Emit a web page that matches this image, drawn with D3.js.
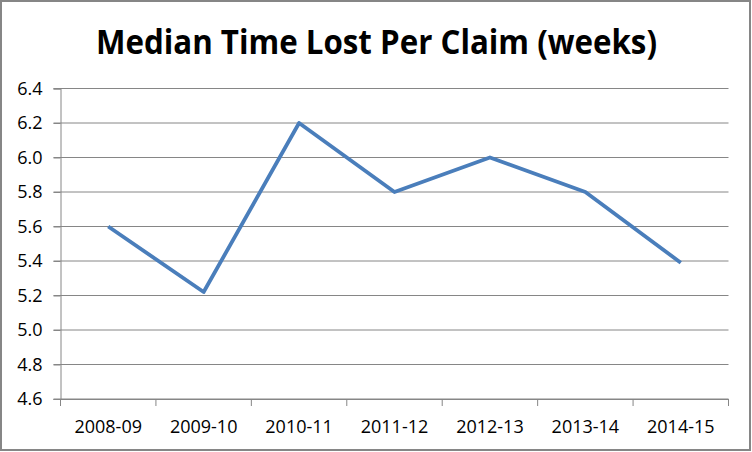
<!DOCTYPE html>
<html>
<head>
<meta charset="utf-8">
<script src="https://cdn.jsdelivr.net/npm/d3@7"></script>
<style>
  body { margin: 0; background: #fff; }
  svg { display: block; }
</style>
</head>
<body>
<script>
const title = "Median Time Lost Per Claim (weeks)";
const years = ["2008-09", "2009-10", "2010-11", "2011-12", "2012-13", "2013-14", "2014-15"];
const weeks = [5.6, 5.22, 6.2, 5.8, 6.0, 5.8, 5.39];
const yTicks = [4.6, 4.8, 5.0, 5.2, 5.4, 5.6, 5.8, 6.0, 6.2, 6.4];

const width = 752, height = 452;
const margin = {top: 88.5, right: 23.5, bottom: 53, left: 60.5};

const svg = d3.select("body").append("svg")
  .attr("width", width)
  .attr("height", height);

svg.append("rect")
  .attr("x", 1).attr("y", 1)
  .attr("width", 749).attr("height", 449)
  .attr("fill", "#fff")
  .attr("stroke", "#868686")
  .attr("stroke-width", 2);

svg.append("text")
  .attr("x", 96).attr("y", 53.5)
  .attr("textLength", 561)
  .attr("lengthAdjust", "spacingAndGlyphs")
  .attr("font-family", "'Open Sans', sans-serif")
  .attr("font-weight", "bold")
  .attr("font-size", 34)
  .attr("fill", "#000")
  .text(title);

const x = d3.scaleBand()
  .domain(years)
  .range([margin.left, width - margin.right]);

const y = d3.scaleLinear()
  .domain([4.6, 6.4])
  .range([height - margin.bottom, margin.top]);

// gridlines
svg.append("g")
  .selectAll("line")
  .data(yTicks)
  .join("line")
  .attr("x1", margin.left - 7)
  .attr("x2", width - margin.right)
  .attr("y1", d => y(d))
  .attr("y2", d => y(d))
  .attr("stroke", "#868686")
  .attr("stroke-width", 1);

// y axis
const yAxis = svg.append("g")
  .attr("transform", `translate(${margin.left},0)`)
  .call(d3.axisLeft(y).tickValues(yTicks).tickFormat(d3.format(".1f")).tickSize(7).tickPadding(11));
yAxis.select(".domain").attr("stroke", "#868686");
yAxis.selectAll(".tick line").attr("stroke", "#868686");
yAxis.selectAll("text")
  .attr("font-family", "'Open Sans', sans-serif")
  .attr("font-size", 18)
  .attr("fill", "#000");

// x axis
const xAxis = svg.append("g")
  .attr("transform", `translate(0,${height - margin.bottom})`)
  .call(d3.axisBottom(x).tickSize(0).tickPadding(21));
xAxis.select(".domain").attr("stroke", "#868686");
xAxis.selectAll("text")
  .attr("font-family", "'Open Sans', sans-serif")
  .attr("font-size", 18)
  .attr("fill", "#000");

// category boundary ticks
const bounds = years.map(d => x(d)).concat([x(years[years.length - 1]) + x.bandwidth()]);
xAxis.selectAll(".bound")
  .data(bounds)
  .join("line")
  .attr("class", "bound")
  .attr("x1", d => d).attr("x2", d => d)
  .attr("y1", 0).attr("y2", 7)
  .attr("stroke", "#868686");

const line = d3.line()
  .x((d, i) => x(years[i]) + x.bandwidth() / 2)
  .y(d => y(d));

svg.append("path")
  .datum(weeks)
  .attr("fill", "none")
  .attr("stroke", "#4a7ebb")
  .attr("stroke-width", 3.8)
  .attr("stroke-linejoin", "round")
  .attr("d", line);
</script>
</body>
</html>
